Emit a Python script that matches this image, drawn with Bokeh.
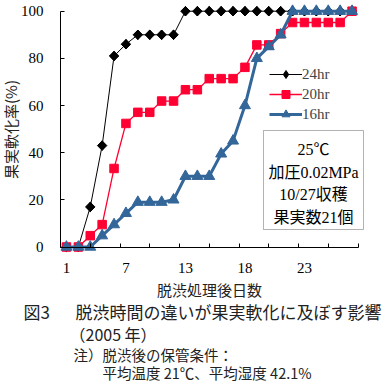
import math
from bokeh.plotting import figure
from bokeh.models import Range1d, FixedTicker, Label, BoxAnnotation, Legend, LegendItem
from bokeh.embed import file_html
from bokeh.resources import INLINE

# ---- data ----
label_idx = [0, 5, 10, 15, 20]
label_text = ["1", "7", "13", "18", "23"]
tick_pos = [-0.5, 2, 4.5, 7, 9.5, 12, 14.5, 17, 19.5, 22, 24.5]
y_ticks = [0, 20, 40, 60, 80, 100]
series_names = ["24hr", "20hr", "16hr"]
h24 = [0, 0, 17, 43, 81, 86, 90, 90, 90, 90, 100, 100, 100, 100, 100,
       100, 100, 100, 100, 100, 100, 100, 100, 100, 100]
h20 = [0, 0, 4.8, 9.5, 33.3, 52.4, 57.1, 57.1, 61.9, 61.9, 66.7, 66.7, 71.4, 71.4, 71.4,
       76.2, 85.7, 85.7, 90.5, 95.2, 95.2, 95.2, 95.2, 95.2, 100]
h16 = [0, 0, 0, 4.8, 9.5, 14.3, 19, 19, 19, 20, 30, 30, 30, 39.5, 45,
       60, 80, 85, 90, 100, 100, 100, 100, 100, 100]
days = list(range(len(h24)))

box_lines = ["25℃", "加圧0.02MPa", "10/27収穫", "果実数21個"]
y_title = "果実軟化率(%)"
x_title = "脱渋処理後日数"
cap_fig = "図3"
cap_main = "脱渋時間の違いが果実軟化に及ぼす影響"
cap_year = "（2005 年）"
note1 = "注）脱渋後の保管条件："
note2 = "平均温度 21℃、平均湿度 42.1%"

# ---- layout geometry (the frame covers the whole canvas) ----
W, H = 387, 388
AX_L = 60          # x pixel of the y axis
CW = 11.9          # px per day slot
Y0 = 246.5         # y pixel of value 0
Y100 = 10.7        # y pixel of value 100
PY = (Y0 - Y100) / 100.0
x_start = -0.5 - AX_L / CW
x_end = x_start + W / CW
y_end = Y0 / PY
y_start = y_end - H / PY


def dx(cx):
    return x_start + cx / CW


def dy(cy):
    return y_end - cy / PY


SERIF = "'Liberation Serif', 'Noto Sans CJK JP'"
JP = "'Noto Sans CJK JP'"

p = figure(width=W, height=H, x_range=Range1d(x_start, x_end),
           y_range=Range1d(y_start, y_end), output_backend="svg",
           toolbar_location=None, min_border=0)
p.outline_line_color = None
p.grid.visible = False
p.background_fill_color = "white"

xa = p.xaxis[0]
xa.fixed_location = 0
xa.bounds = (-0.5, len(days) - 0.5)
xa.ticker = FixedTicker(ticks=label_idx, minor_ticks=tick_pos)
xa.major_label_overrides = {i: t for i, t in zip(label_idx, label_text)}
xa.major_tick_line_color = None
xa.major_tick_in = 0
xa.major_tick_out = 0
xa.minor_tick_in = 4
xa.minor_tick_out = 0
xa.minor_tick_line_color = "black"
xa.axis_line_color = "black"
xa.major_label_standoff = 16
xa.major_label_text_font = SERIF
xa.major_label_text_font_size = "15px"
xa.major_label_text_color = "black"
xa.axis_label = x_title
xa.axis_label_text_font = JP
xa.axis_label_text_font_size = "15px"
xa.axis_label_text_font_style = "normal"
xa.axis_label_text_color = "#222222"
xa.axis_label_standoff = 2

ya = p.yaxis[0]
ya.fixed_location = -0.5
ya.bounds = (0, 100)
ya.ticker = FixedTicker(ticks=y_ticks)
ya.major_tick_in = 4
ya.major_tick_out = 0
ya.minor_tick_line_color = None
ya.axis_line_color = "black"
ya.major_label_standoff = 17
ya.major_label_text_font = SERIF
ya.major_label_text_font_size = "15px"
ya.major_label_text_color = "black"
ya.axis_label = y_title
ya.axis_label_text_font = JP
ya.axis_label_text_font_size = "15px"
ya.axis_label_text_font_style = "normal"
ya.axis_label_text_color = "#222222"
ya.axis_label_standoff = -3

RED = "#FF0033"
BLUE = "#336699"

l24 = p.line(days, h24, line_color="black", line_width=1)
k24 = p.scatter(days, h24, marker="diamond", size=9.5,
                fill_color="black", line_color="black")
m24 = p.scatter(days, h24, marker="square", angle=math.pi / 4, size=6.7,
                fill_color="black", line_color="black")
l20 = p.line(days, h20, line_color=RED, line_width=1.3)
m20 = p.scatter(days, h20, marker="square", size=8.5, fill_color=RED, line_color=RED)
l16 = p.line(days, h16, line_color=BLUE, line_width=3)
m16 = p.scatter(days, h16, marker="triangle", size=11, fill_color=BLUE, line_color=BLUE)

legend = Legend(items=[LegendItem(label=series_names[0], renderers=[l24, k24]),
                       LegendItem(label=series_names[1], renderers=[l20, m20]),
                       LegendItem(label=series_names[2], renderers=[l16, m16])],
                location=(269, 264))
legend.border_line_color = None
legend.background_fill_alpha = 0
legend.padding = 0
legend.margin = 0
legend.spacing = 0
legend.glyph_width = 33
legend.glyph_height = 20
legend.label_height = 20
legend.label_standoff = 0
legend.label_text_font = SERIF
legend.label_text_font_size = "15px"
p.add_layout(legend)

box = BoxAnnotation(left=dx(263), right=dx(363), top=dy(130), bottom=dy(229),
                    fill_alpha=0, line_color="black", line_width=1)
p.add_layout(box)
for txt, cy in zip(box_lines, [149, 172, 194, 217]):
    p.add_layout(Label(x=dx(313), y=dy(cy), text=txt, text_align="center",
                       text_baseline="middle", text_font=SERIF,
                       text_font_size="16px", text_color="black"))

for txt, cx, cy, fs in [(cap_fig, 23, 311, "17px"), (cap_main, 75, 311, "17px"),
                        (cap_year, 69, 333, "16px"), (note1, 73, 354, "14.5px"),
                        (note2, 102, 372, "14.5px")]:
    p.add_layout(Label(x=dx(cx), y=dy(cy), text=txt, text_align="left",
                       text_baseline="middle", text_font=JP,
                       text_font_size=fs, text_color="#222222"))

open("out.html", "w").write(file_html(p, INLINE))
